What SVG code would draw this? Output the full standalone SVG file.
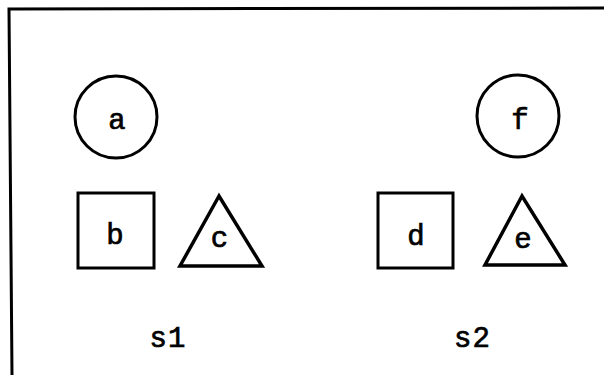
<svg xmlns="http://www.w3.org/2000/svg" width="604" height="375" viewBox="0 0 604 375">
<style>
.shape{fill:none;stroke:#000;stroke-width:3}
.tri{fill:none;stroke:#000;stroke-width:3.5;stroke-linejoin:miter}
.lbl{font-family:"Liberation Mono","Courier New",monospace;font-size:29px;fill:#000;stroke:#000;stroke-width:0.7;text-anchor:middle}
.frame{fill:none;stroke:#000;stroke-width:3}
</style>
<rect width="604" height="375" fill="#fff"/>
<polyline class="frame" points="12,375 9,9 604,8"/>
<g id="a"><circle class="shape" cx="116" cy="117" r="41"/><text class="lbl" x="117" y="128.5">a</text></g>
<g id="f"><circle class="shape" cx="518" cy="116" r="41"/><text class="lbl" x="520" y="129">f</text></g>
<g id="b"><rect class="shape" x="78" y="193" width="76" height="75"/><text class="lbl" x="115" y="244">b</text></g>
<g id="c"><polygon class="tri" points="219,196 180,266 262,266"/><text class="lbl" x="219.5" y="247">c</text></g>
<g id="d"><rect class="shape" x="378" y="193" width="75" height="75"/><text class="lbl" x="416" y="245">d</text></g>
<g id="e"><polygon class="tri" points="522,196 485,265 565,265"/><text class="lbl" x="523" y="248">e</text></g>
<g id="s1"><text class="lbl" x="168" y="347" letter-spacing="1">s1</text></g>
<g id="s2"><text class="lbl" x="472.5" y="347" letter-spacing="1">s2</text></g>
<g id="connectors"></g>
</svg>
